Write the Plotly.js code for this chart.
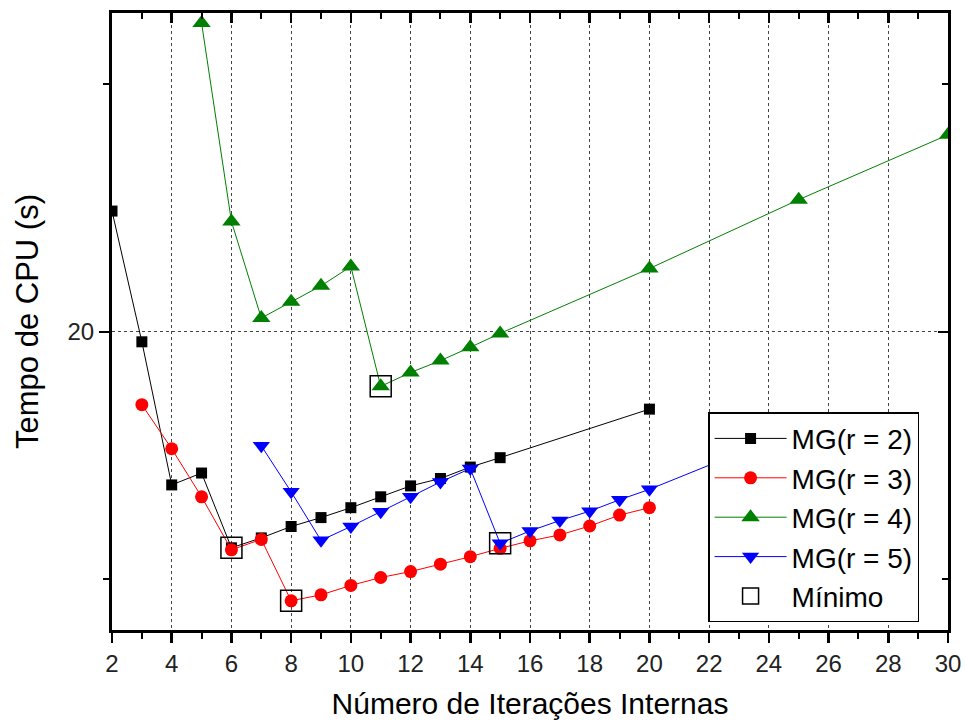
<!DOCTYPE html>
<html>
<head>
<meta charset="utf-8">
<script src="https://cdn.plot.ly/plotly-3.0.1.min.js"></script>
<style>html,body{margin:0;padding:0;background:#fff;}#chart{width:965px;height:726px;}</style>
</head>
<body>
<div id="chart"></div>
<script>
// Data
var iterR2 = [2,3,4,5,6,7,8,9,10,11,12,13,14,15,20];
var cpuR2  = [22.44,19.80,16.91,17.15,15.64,15.84,16.07,16.25,16.45,16.67,16.89,17.04,17.27,17.46,18.44];

var iterR3 = [3,4,5,6,7,8,9,10,11,12,13,14,15,16,17,18,19,20];
var cpuR3  = [18.53,17.64,16.67,15.60,15.81,14.57,14.69,14.88,15.04,15.16,15.31,15.46,15.63,15.78,15.90,16.08,16.30,16.45];

var iterR4 = [5,6,7,8,9,10,11,12,13,14,15,20,25,30];
var cpuR4  = [26.24,22.23,20.28,20.61,20.93,21.32,18.90,19.18,19.42,19.69,19.97,21.28,22.67,23.98];

var iterR5 = [7,8,9,10,11,12,13,14,15,16,17,18,19,20,25];
var cpuR5  = [17.70,16.77,15.79,16.07,16.37,16.67,16.97,17.24,15.73,15.98,16.19,16.38,16.61,16.82,18.04];

var seriesNames = ["MG(r = 2)","MG(r = 3)","MG(r = 4)","MG(r = 5)"];
var minName = "Mínimo";
var xTitle = "Número de Iterações Internas";
var yTitle = "Tempo de CPU (s)";

// minimum of each series
function argMin(xs, ys){ var k=0; for(var i=1;i<ys.length;i++){ if(ys[i]<ys[k]) k=i; } return [xs[k], ys[k]]; }
var allX=[iterR2,iterR3,iterR4,iterR5], allY=[cpuR2,cpuR3,cpuR4,cpuR5];
var minX=[], minY=[];
for (var s=0;s<4;s++){ var m=argMin(allX[s],allY[s]); minX.push(m[0]); minY.push(m[1]); }

var FONT = "Liberation Sans, Arial, sans-serif";
var colors = ["#000000","#ff0000","#008000","#0000ff"];
var symbols = ["square","circle","triangle-up","triangle-down"];
var sizes = [11,13,16,15];

var traces = [];
for (var s=0;s<4;s++){
  traces.push({
    x: allX[s], y: allY[s], name: seriesNames[s], legendgroup: "g"+s,
    type: "scatter", mode: "lines+markers",
    line: {color: colors[s], width: 1},
    marker: {symbol: symbols[s], size: sizes[s], color: colors[s]}
  });
}
traces.push({
  x: minX, y: minY, name: minName, legendgroup: "g4",
  type: "scatter", mode: "markers",
  marker: {symbol: "square-open", size: 21, color: "#000", line: {width: 1.5, color: "#000"}}
});
// invisible helper traces so the mirrored (top / right) tick axes get drawn
traces.push({x: minX, y: minY, xaxis: "x2", yaxis: "y", type: "scatter", mode: "markers",
  marker: {opacity: 0}, showlegend: false, hoverinfo: "skip"});
traces.push({x: minX, y: minY, xaxis: "x", yaxis: "y2", type: "scatter", mode: "markers",
  marker: {opacity: 0}, showlegend: false, hoverinfo: "skip"});

var xr = [2,30], yr = [13.98,26.44];
var layout = {
  width: 965, height: 726,
  margin: {l:112, r:17, t:13, b:96},
  paper_bgcolor: "#fff", plot_bgcolor: "#fff",
  font: {family: FONT, color: "#000"},
  showlegend: true,
  legend: {
    x: 0.713, y: 0.353, xanchor: "left", yanchor: "top",
    bgcolor: "#fff", bordercolor: "#000", borderwidth: 1.5,
    font: {size: 28, family: FONT, color: "#000"},
    traceorder: "grouped", tracegroupgap: 0, itemwidth: 72
  },
  xaxis: {
    range: xr, tickmode: "linear", tick0: 0, dtick: 2,
    ticks: "outside", ticklen: 10, tickwidth: 2.5, tickcolor: "#000",
    minor: {ticks: "outside", ticklen: 6, tickwidth: 2, tickcolor: "#000", dtick: 1, tick0: 0, showgrid: false},
    showline: true, linewidth: 3, linecolor: "#000", mirror: true,
    showgrid: true, gridcolor: "#444", griddash: "dot", gridwidth: 1,
    zeroline: false,
    tickfont: {size: 24, family: FONT, color: "#222"},
    title: {text: xTitle, font: {size: 30, family: FONT, color: "#000"}, standoff: 18}
  },
  yaxis: {
    range: yr, tickmode: "linear", tick0: 0, dtick: 10,
    ticks: "outside", ticklen: 10, tickwidth: 2.5, tickcolor: "#000",
    minor: {ticks: "outside", ticklen: 6, tickwidth: 2, tickcolor: "#000", dtick: 5, tick0: 0, showgrid: false},
    showline: true, linewidth: 3, linecolor: "#000", mirror: true,
    showgrid: true, gridcolor: "#444", griddash: "dot", gridwidth: 1,
    zeroline: false,
    tickfont: {size: 24, family: FONT, color: "#222"},
    title: {text: yTitle, font: {size: 31, family: FONT, color: "#000"}, standoff: 20}
  },
  xaxis2: {
    overlaying: "x", side: "top", anchor: "y", range: xr,
    tickmode: "linear", tick0: 0, dtick: 2,
    ticks: "inside", ticklen: 10, tickwidth: 2.5, tickcolor: "#000",
    minor: {ticks: "inside", ticklen: 6, tickwidth: 2, tickcolor: "#000", dtick: 1, tick0: 0, showgrid: false},
    showticklabels: false, showgrid: false, zeroline: false, showline: false
  },
  yaxis2: {
    overlaying: "y", side: "right", anchor: "x", range: yr,
    tickmode: "linear", tick0: 0, dtick: 10,
    ticks: "inside", ticklen: 10, tickwidth: 2.5, tickcolor: "#000",
    minor: {ticks: "inside", ticklen: 6, tickwidth: 2, tickcolor: "#000", dtick: 5, tick0: 0, showgrid: false},
    showticklabels: false, showgrid: false, zeroline: false, showline: false
  }
};

Plotly.newPlot("chart", traces, layout, {displayModeBar: false, staticPlot: true});
</script>
</body>
</html>
